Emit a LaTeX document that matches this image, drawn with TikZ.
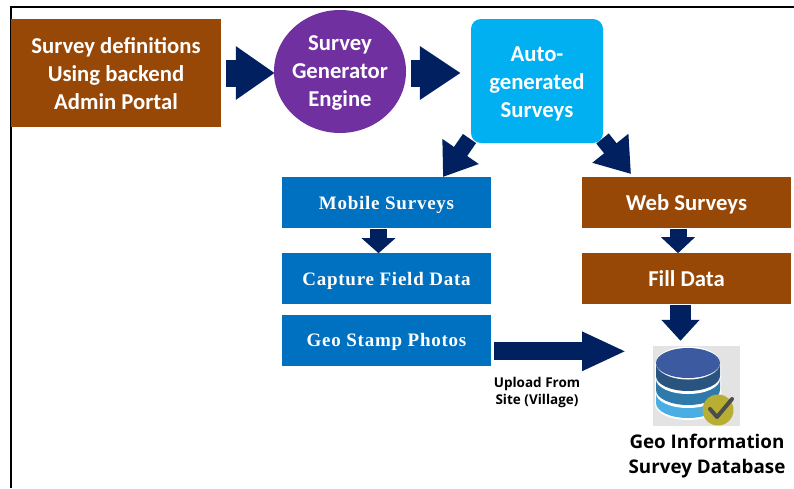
\documentclass[tikz,border=0pt]{standalone}
\usepackage{fontspec}
\usepackage{tikz}
\usetikzlibrary{calc,positioning,arrows.meta,shapes}
\setmainfont{Carlito}
\newfontfamily\serifbold[LetterSpace=4]{Liberation Serif}
\newfontfamily\labelfont{Open Sans}
\definecolor{brownbox}{HTML}{974706}
\definecolor{bluebox}{HTML}{0070C0}
\definecolor{cyanbox}{HTML}{00B0F0}
\definecolor{purplebox}{HTML}{7030A0}
\definecolor{navyarrow}{HTML}{002060}
\definecolor{dbtop}{HTML}{3C5AA0}
\definecolor{dbupper}{HTML}{295480}
\definecolor{dbmiddle}{HTML}{2E7AAB}
\definecolor{dblower}{HTML}{4AAEE4}
\definecolor{dbbadge}{HTML}{B8AF32}
\tikzset{
	bignode/.style={text=white,inner sep=0pt,align=center,font=\fontsize{22.7}{28}\selectfont\bfseries},
	brownnode/.style={bignode,fill=brownbox},
	bluenode/.style={fill=bluebox,text=white,inner sep=0pt,minimum width=209pt,minimum height=51pt,text height=13pt,text depth=0pt,align=center,font=\fontsize{19}{22}\serifbold\bfseries},
	fatarrow/.style={draw=navyarrow,line width=#1},
	fatarrow/.default=17pt,
	dblayer/.style={fill=#1},
}
\begin{document}
\begin{tikzpicture}[x=1pt,y=-1pt]
	\useasboundingbox (0,0) rectangle (794,488);
	\coordinate(topend) at (794,7);
	\coordinate(corner) at (11,7);
	\coordinate(leftend) at (11,488);
	\draw[line width=1.8pt] (topend) -- (corner) -- (leftend);
	% top row
	\node(defs) [brownnode,minimum width=210pt,minimum height=108pt,label={[bignode,yshift=-1pt]center:Survey definitions\\Using backend\\Admin Portal}] at (116,73) {};
	\node(engine) [ellipse,fill=purplebox,inner sep=0pt,minimum width=132pt,minimum height=123pt,label={[bignode,yshift=-1pt]center:Survey\\Generator\\Engine}] at (340,71.5) {};
	\node(auto) [rectangle,rounded corners=10pt,fill=cyanbox,minimum width=132pt,minimum height=124pt,label={[bignode,yshift=-3pt]center:Auto-\\generated\\Surveys}] at (537,81) {};
	% left column
	\node(mobile) [bluenode] at (386.5,202.5) {Mobile Surveys};
	\node(capture) [bluenode,below=25pt of mobile] {Capture Field Data};
	\node(geo) [bluenode,below=10pt of capture] {Geo Stamp Photos};
	% right column
	\node(web) [brownnode,minimum width=209pt,minimum height=51pt,label={[bignode,yshift=-1.5pt]center:Web Surveys}] at (686.5,202.5) {};
	\node(fill) [brownnode,minimum width=209pt,minimum height=51pt,below=25pt of web] {Fill Data};
	% database icon
	\node(db) [fill=black!11,inner sep=0pt,minimum width=87pt,minimum height=80pt] at (696.5,386) {};
	\fill[white] (655,363) -- (655,404) arc[start angle=180,end angle=0,x radius=33,y radius=16] -- (721,363) -- cycle;
	\fill[dblayer=dblower] (656,394) -- (656,403) arc[start angle=180,end angle=0,x radius=32,y radius=15] -- (720,394) -- cycle;
	\fill[white] (656,380) -- (656,393) arc[start angle=180,end angle=0,x radius=32,y radius=15] -- (720,380) -- cycle;
	\fill[dblayer=dbmiddle] (656,378) -- (656,390) arc[start angle=180,end angle=0,x radius=32,y radius=15] -- (720,378) -- cycle;
	\fill[white] (656,367) -- (656,379) arc[start angle=180,end angle=0,x radius=32,y radius=15] -- (720,367) -- cycle;
	\fill[dblayer=dbupper] (656,363) -- (656,376) arc[start angle=180,end angle=0,x radius=32,y radius=15] -- (720,363) -- cycle;
	\fill[white] (688,363) ellipse[x radius=32,y radius=16.5];
	\fill[dblayer=dbtop] (688,363) ellipse[x radius=32,y radius=15];
	\node(badge) [circle,fill=dbbadge,inner sep=0pt,minimum size=31pt] at (718,410) {};
	\coordinate(tick1) at (710,409);
	\coordinate(tick2) at (717,417);
	\coordinate(tick3) at (732,399);
	\draw[line width=4pt,color=black!70,line join=round,line cap=round] (tick1) -- (tick2) -- (tick3);
	% labels
	\node(upload) [align=center,text=black,inner sep=0pt,font=\fontsize{13.5}{17}\labelfont\bfseries] at (537,392) {Upload From\\Site (Village)};
	\node(dbname) [align=center,text=black,inner sep=0pt,font=\fontsize{18.8}{25}\labelfont\bfseries] at (707,456) {Geo Information\\Survey Database};
	% arrows
	\draw[fatarrow=27pt,-{Triangle[length=39pt,width=51pt]}] ($(defs.east)+(5,0)$) -- ($(engine.west |- defs.east)+(1,0)$);
	\draw[fatarrow=27pt,-{Triangle[length=41pt,width=51pt]}] ($(engine.east |- defs.east)+(5,0)$) -- ($(auto.west |- defs.east)+(-10,0)$);
	\coordinate(autoleft) at (469.5,138.5);
	\coordinate(autoright) at (602.5,138.5);
	\coordinate(mobiletip) at (443,177);
	\coordinate(webtip) at (631,174);
	\draw[fatarrow=16pt,-{Triangle[length=31pt,width=42pt]}] (autoleft) -- (mobiletip);
	\draw[fatarrow=16pt,-{Triangle[length=33pt,width=44pt]}] (autoright) -- (webtip);
	\draw[fatarrow,-{Triangle[length=15pt,width=33pt]}] ($(mobile.south)+(-8,1)$) -- ($(capture.north)+(-8,0)$);
	\draw[fatarrow,-{Triangle[length=16pt,width=33pt]}] ($(web.south)+(-8.5,1)$) -- ($(fill.north)+(-8.5,0)$);
	\draw[fatarrow=21pt,-{Triangle[length=21pt,width=37pt]}] ($(fill.south)+(-6,0)$) -- ($(db.north)+(-16,-5)$);
	\draw[fatarrow=18pt,-{Triangle[length=44pt,width=36pt]}] ($(geo.east)+(3,11)$) -- ($(geo.east)+(135,11)$);
\end{tikzpicture}
\end{document}
